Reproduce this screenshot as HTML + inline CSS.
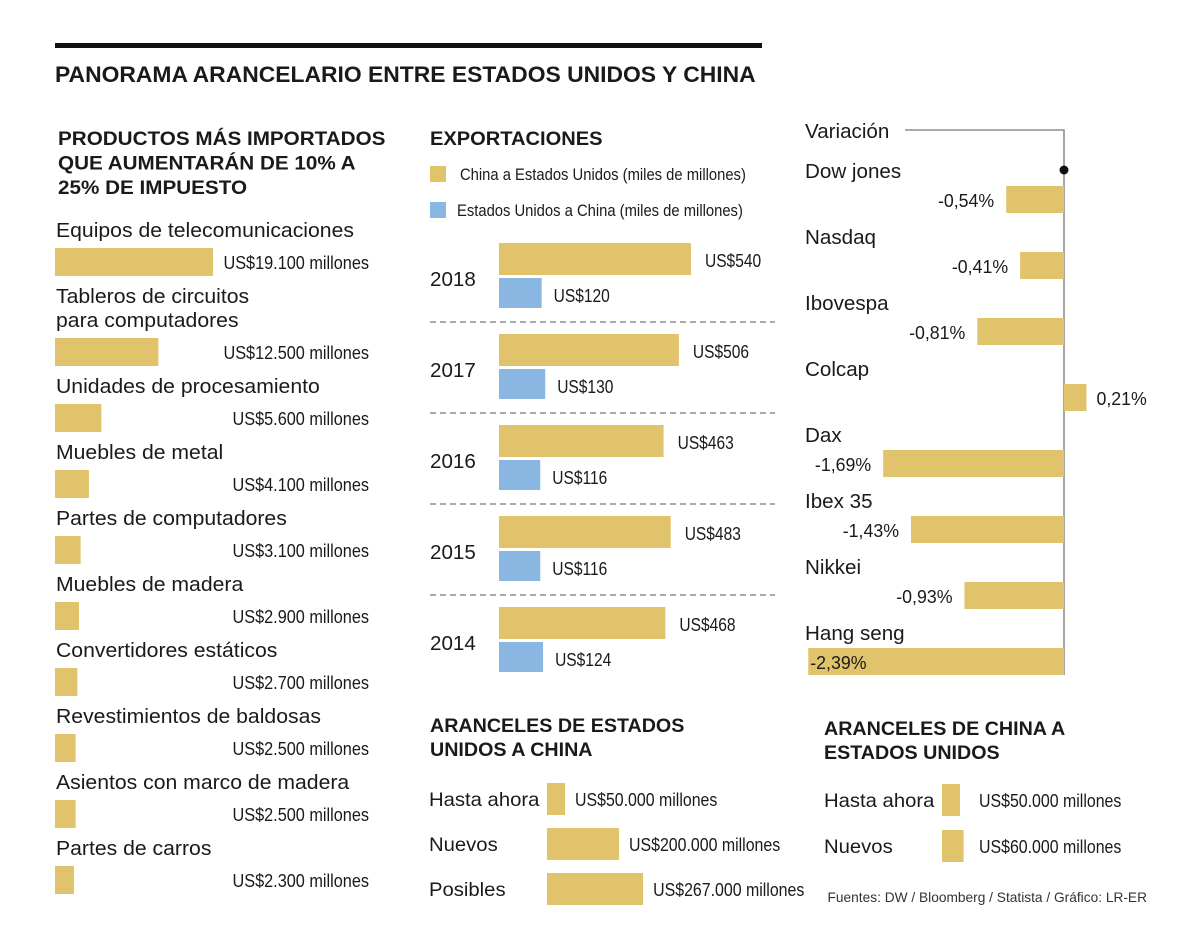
<!DOCTYPE html>
<html><head><meta charset="utf-8"><style>
html,body{margin:0;padding:0;background:#fff}
svg{display:block;font-family:"Liberation Sans",sans-serif}
</style></head><body>
<svg id="c" width="1200" height="951" viewBox="0 0 1200 951"></svg>
<script>
const products=["Equipos de telecomunicaciones","Tableros de circuitos|para computadores","Unidades de procesamiento","Muebles de metal","Partes de computadores","Muebles de madera","Convertidores estáticos","Revestimientos de baldosas","Asientos con marco de madera","Partes de carros"];
const productValues=[19100,12500,5600,4100,3100,2900,2700,2500,2500,2300];
const productLabels=["US$19.100 millones","US$12.500 millones","US$5.600 millones","US$4.100 millones","US$3.100 millones","US$2.900 millones","US$2.700 millones","US$2.500 millones","US$2.500 millones","US$2.300 millones"];
const years=["2018","2017","2016","2015","2014"];
const chinaToUS=[540,506,463,483,468];
const usToChina=[120,130,116,116,124];
const indices=["Dow jones","Nasdaq","Ibovespa","Colcap","Dax","Ibex 35","Nikkei","Hang seng"];
const variation=[-0.54,-0.41,-0.81,0.21,-1.69,-1.43,-0.93,-2.39];
const usTariffCats=["Hasta ahora","Nuevos","Posibles"];
const usTariffVals=[50000,200000,267000];
const cnTariffCats=["Hasta ahora","Nuevos"];
const cnTariffVals=[50000,60000];

const NS="http://www.w3.org/2000/svg",svg=document.getElementById('c');
const GOLD="#e0c36b",BLUE="#8ab7e2";
function el(tag,a,name){const e=document.createElementNS(NS,tag);for(const k in a)e.setAttribute(k,a[k]);


svg.appendChild(e);return e;}
function t(x,y,s,size,w,anchor,sx,name,fill){const e=el('text',{transform:`translate(${x},${y}) scale(${sx},1)`,'font-size':size,'font-weight':w,'text-anchor':anchor||'start',fill:fill||'#1a1a1a'},name);e.textContent=s;return e;}
function r(x,y,w,h,f,name){return el('rect',{x,y,width:w,height:h,fill:f},name);}

// header
r(55,43,707,5,"#111","top-rule");
t(55,82,"PANORAMA ARANCELARIO ENTRE ESTADOS UNIDOS Y CHINA",22,"bold","start",1.04,"main-title");
// left section
["PRODUCTOS MÁS IMPORTADOS","QUE AUMENTARÁN DE 10% A","25% DE IMPUESTO"].forEach((s,i)=>t(58,145+i*24.5,s,19.5,"bold","start",1.06,"products-heading"));
const px=v=>v*158/19100;
products.forEach((p,i)=>{
  const by=i===0?248:338+(i-1)*66;
  const lines=p.split('|');
  lines.forEach((l,j)=>t(56,by-11-(lines.length-1-j)*24,l,20,"normal","start",1.06,"product-label"));
  r(55,by,px(productValues[i]),28,GOLD,"product-bar");
  t(369,by+21,productLabels[i],18.5,"normal","end",0.88,"product-value");
});
// exports
t(430,145,"EXPORTACIONES",19.5,"bold","start",1.03,"exports-heading");
r(430,166,16,16,GOLD,"legend-swatch-china");
t(460,180,"China a Estados Unidos (miles de millones)",17,"normal","start",0.87,"legend-china");
r(430,202,16,16,BLUE,"legend-swatch-us");
t(457,216,"Estados Unidos a China (miles de millones)",17,"normal","start",0.87,"legend-us");
const ex=v=>499+v*0.3555;
years.forEach((y,i)=>{
  const gy=243+i*91;
  t(430,gy+43,y,20,"normal","start",1.03,"year-label");
  r(499,gy,ex(chinaToUS[i])-499,32,GOLD,"bar-china-"+y);
  t(ex(chinaToUS[i])+14,gy+24,"US$"+chinaToUS[i],18.5,"normal","start",0.84,"value-china");
  r(499,gy+35,ex(usToChina[i])-499,30,BLUE,"bar-us-"+y);
  t(ex(usToChina[i])+12,gy+59,"US$"+usToChina[i],18.5,"normal","start",0.84,"value-us");
  if(i<4) el('line',{x1:430,x2:775,y1:gy+79,y2:gy+79,stroke:"#555","stroke-width":1,"stroke-dasharray":"6,4"},"separator");
});
// variation
t(805,138,"Variación",20,"normal","start",1.03,"variation-title");
el('polyline',{points:"905,130 1064,130 1064,675",fill:"none",stroke:"#777","stroke-width":1.3},"variation-axis");
el('circle',{cx:1064,cy:170,r:4.5,fill:"#111"},"axis-dot");
const vx=v=>1064+v*107;
indices.forEach((n,i)=>{
  const ly=178+i*66,by=186+i*66,v=variation[i];
  t(805,ly,n,20,"normal","start",1.03,"index-label");
  const x0=Math.min(vx(v),1064),w=Math.abs(vx(v)-1064);
  r(x0,by,w,27,GOLD,"variation-bar");
  const lab=(v<0?"-":"")+Math.abs(v).toFixed(2).replace('.',',')+"%";
  if(v>=0) t(vx(v)+10,by+21,lab,18.5,"normal","start",0.96,"variation-value");
  else if(vx(v)<830) t(vx(v)+2,by+21,lab,18.5,"normal","start",0.96,"variation-value");
  else t(vx(v)-12,by+21,lab,18.5,"normal","end",0.96,"variation-value");
});
// US tariffs
["ARANCELES DE ESTADOS","UNIDOS A CHINA"].forEach((s,i)=>t(430,732+i*24,s,19.5,"bold","start",1.01,"us-tariff-heading"));
const ax=v=>v*0.36/1000;
usTariffCats.forEach((c,i)=>{
  const cy=799+i*45;
  t(429,cy+7,c,19.5,"normal","start",1.04,"us-tariff-label");
  r(547,cy-16,ax(usTariffVals[i]),32,GOLD,"us-tariff-bar");
  t(547+ax(usTariffVals[i])+10,cy+7,"US$"+usTariffVals[i].toLocaleString('de-DE')+" millones",18.5,"normal","start",0.86,"us-tariff-value");
});
["ARANCELES DE CHINA A","ESTADOS UNIDOS"].forEach((s,i)=>t(824,735+i*24,s,19.5,"bold","start",1.01,"cn-tariff-heading"));
cnTariffCats.forEach((c,i)=>{
  const cy=800+i*46;
  t(824,cy+7,c,19.5,"normal","start",1.04,"cn-tariff-label");
  r(942,cy-16,ax(cnTariffVals[i]),32,GOLD,"cn-tariff-bar");
  t(979,cy+7,"US$"+cnTariffVals[i].toLocaleString('de-DE')+" millones",18.5,"normal","start",0.86,"cn-tariff-value");
});
t(1147,902,"Fuentes: DW / Bloomberg / Statista / Gráfico: LR-ER",14,"normal","end",0.98,"source-note","#333");
</script>
</body></html>
